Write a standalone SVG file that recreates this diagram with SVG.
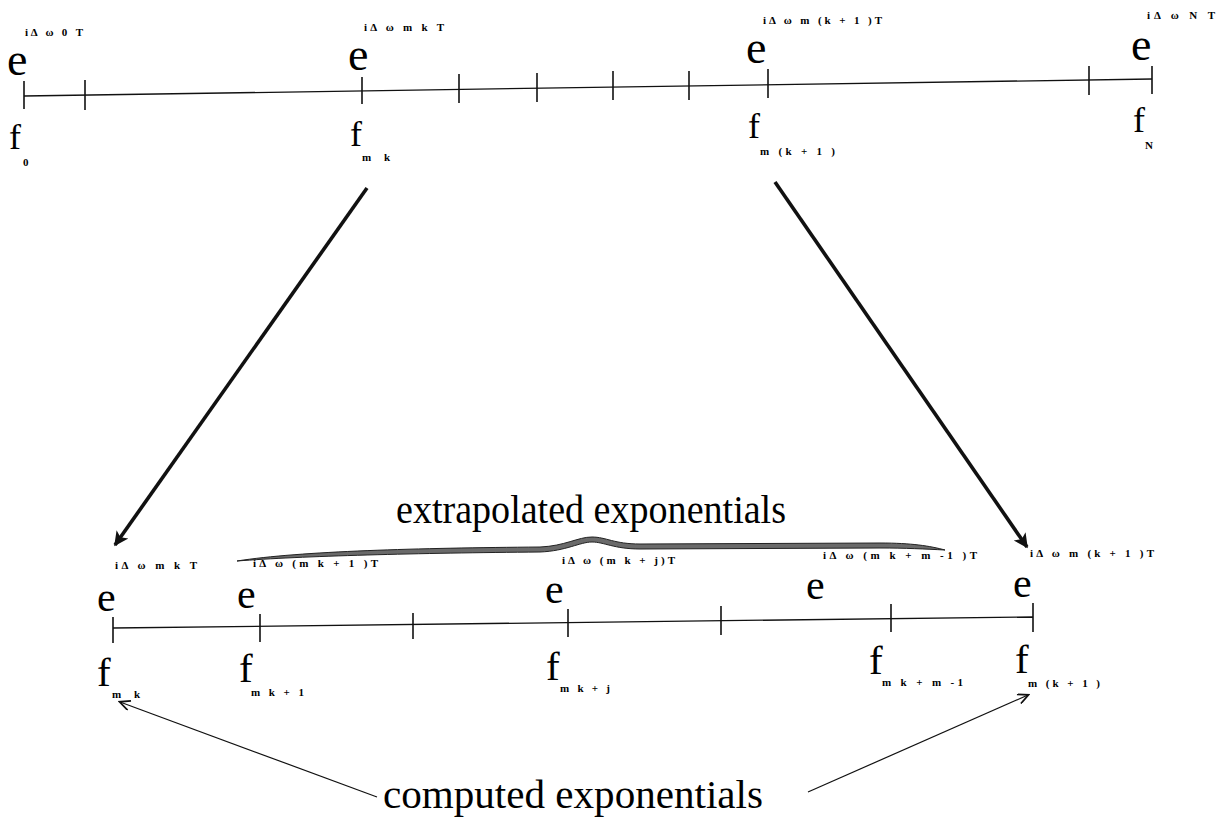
<svg xmlns="http://www.w3.org/2000/svg" width="1218" height="825" viewBox="0 0 1218 825">
<style>
.e1{font-family:"Liberation Serif",serif;font-size:46px;fill:#000}
.e2{font-family:"Liberation Serif",serif;font-size:42px;fill:#000}
.f1{font-family:"Liberation Serif",serif;font-size:36px;fill:#000}
.f2{font-family:"Liberation Serif",serif;font-size:41px;fill:#000}
.s{font-family:"Liberation Serif",serif;font-size:11px;font-weight:bold;fill:#000}
.big{font-family:"Liberation Serif",serif;font-size:40px;fill:#000}
.axis{stroke:#111;stroke-width:1.3;fill:none}
.tick{stroke:#111;stroke-width:1.6}
.arrow{stroke:#111;stroke-width:3.6;fill:none}
.thin{stroke:#111;stroke-width:1.2;fill:none}
</style>
<defs>
<marker id="bigHead" viewBox="0 0 10 10" refX="9" refY="5" markerWidth="4.6" markerHeight="4" orient="auto" markerUnits="strokeWidth">
<path d="M0,0 L10,5 L0,10 L2.5,5 z" fill="#111"/>
</marker>
<marker id="openHead" viewBox="0 0 10 10" refX="9" refY="5" markerWidth="13" markerHeight="11" orient="auto" markerUnits="userSpaceOnUse">
<path d="M0,0.5 L9.5,5 L0,9.5" fill="none" stroke="#111" stroke-width="1.6"/>
</marker>
</defs>

<g id="top-axis">
<line class="axis" x1="24" y1="96" x2="1152" y2="79"/>
<line class="tick" x1="24" y1="81" x2="24" y2="109"/>
<line class="tick" x1="85" y1="80" x2="85" y2="110"/>
<line class="tick" x1="362" y1="77" x2="362" y2="104"/>
<line class="tick" x1="459" y1="74" x2="459" y2="103"/>
<line class="tick" x1="537" y1="73" x2="537" y2="102"/>
<line class="tick" x1="613" y1="71" x2="613" y2="100"/>
<line class="tick" x1="689" y1="71" x2="689" y2="100"/>
<line class="tick" x1="768" y1="69" x2="768" y2="98"/>
<line class="tick" x1="1089" y1="66" x2="1089" y2="95"/>
<line class="tick" x1="1152" y1="66" x2="1152" y2="94"/>
</g>

<g id="top-0">
<text class="s" x="25" y="36" textLength="58" lengthAdjust="spacing">iΔ ω 0 T</text>
<text class="e1" x="7" y="75">e</text>
<text class="f1" x="9" y="149">f</text>
<text class="s" x="23" y="166">0</text>
</g>
<g id="top-mk">
<text class="s" x="364" y="31" textLength="80" lengthAdjust="spacing">iΔ ω m k T</text>
<text class="e1" x="348" y="70">e</text>
<text class="f1" x="350" y="146">f</text>
<text class="s" x="362" y="161" textLength="28" lengthAdjust="spacing">m k</text>
</g>
<g id="top-mk1">
<text class="s" x="763" y="24" textLength="119" lengthAdjust="spacing">iΔ ω m (k + 1 )T</text>
<text class="e1" x="746" y="63">e</text>
<text class="f1" x="748" y="138">f</text>
<text class="s" x="760" y="155" textLength="75" lengthAdjust="spacing">m (k + 1 )</text>
</g>
<g id="top-N">
<text class="s" x="1147" y="19" textLength="68" lengthAdjust="spacing">iΔ ω N T</text>
<text class="e1" x="1131" y="60">e</text>
<text class="f1" x="1133" y="132">f</text>
<text class="s" x="1145" y="149">N</text>
</g>

<g id="bottom-axis">
<line class="axis" x1="113" y1="628" x2="1033" y2="617"/>
<line class="tick" x1="113" y1="617" x2="113" y2="643"/>
<line class="tick" x1="260" y1="614" x2="260" y2="642"/>
<line class="tick" x1="413" y1="613" x2="413" y2="639"/>
<line class="tick" x1="568" y1="609" x2="568" y2="637"/>
<line class="tick" x1="721" y1="606" x2="721" y2="635"/>
<line class="tick" x1="891" y1="604" x2="891" y2="632"/>
<line class="tick" x1="1033" y1="603" x2="1033" y2="632"/>
</g>

<g id="bottom-mk">
<text class="s" x="115" y="569" textLength="82" lengthAdjust="spacing">iΔ ω m k T</text>
<text class="e2" x="97" y="611">e</text>
<text class="f2" x="97" y="686">f</text>
<text class="s" x="112" y="698" textLength="28" lengthAdjust="spacing">m k</text>
</g>
<g id="bottom-mk1">
<text class="s" x="253" y="567" textLength="125" lengthAdjust="spacing">iΔ ω (m k + 1 )T</text>
<text class="e2" x="237" y="608">e</text>
<text class="f2" x="239" y="682">f</text>
<text class="s" x="251" y="696" textLength="53" lengthAdjust="spacing">m k + 1</text>
</g>
<g id="bottom-mkj">
<text class="s" x="562" y="564" textLength="113" lengthAdjust="spacing">iΔ ω (m k + j)T</text>
<text class="e2" x="545" y="603">e</text>
<text class="f2" x="546" y="680">f</text>
<text class="s" x="560" y="692" textLength="50" lengthAdjust="spacing">m k + j</text>
</g>
<g id="bottom-mkm1">
<text class="s" x="823" y="559" textLength="154" lengthAdjust="spacing">iΔ ω (m k + m -1 )T</text>
<text class="e2" x="806" y="599">e</text>
<text class="f2" x="869" y="674">f</text>
<text class="s" x="882" y="686" textLength="81" lengthAdjust="spacing">m k + m -1</text>
</g>
<g id="bottom-mk1end">
<text class="s" x="1030" y="557" textLength="124" lengthAdjust="spacing">iΔ ω m (k + 1 )T</text>
<text class="e2" x="1013" y="597">e</text>
<text class="f2" x="1015" y="673">f</text>
<text class="s" x="1028" y="687" textLength="72" lengthAdjust="spacing">m (k + 1 )</text>
</g>

<g id="extrapolated">
<path d="M237,561 C300,551 420,548 540,547 C565,546 578,537 592,537 C606,537 614,544 640,544 L880,543 C912,543 930,546 945,550 C925,549 905,548 880,548 L640,549 C614,549 604,542 592,542 C580,542 566,551 540,552 C420,553 300,556 237,561 z" fill="#6a6a6a" stroke="#222" stroke-width="1"/>
<text class="big" x="396" y="523" textLength="390" lengthAdjust="spacingAndGlyphs">extrapolated exponentials</text>
</g>

<g id="computed">
<text class="big" x="383" y="808" textLength="380" lengthAdjust="spacingAndGlyphs">computed exponentials</text>
</g>

<g id="connectors">
<line class="arrow" x1="367" y1="188" x2="115" y2="545" marker-end="url(#bigHead)"/>
<line class="arrow" x1="775" y1="182" x2="1027" y2="547" marker-end="url(#bigHead)"/>
<line class="thin" x1="377" y1="797" x2="120" y2="702" marker-end="url(#openHead)"/>
<line class="thin" x1="808" y1="792" x2="1028" y2="695" marker-end="url(#openHead)"/>
</g>
</svg>
